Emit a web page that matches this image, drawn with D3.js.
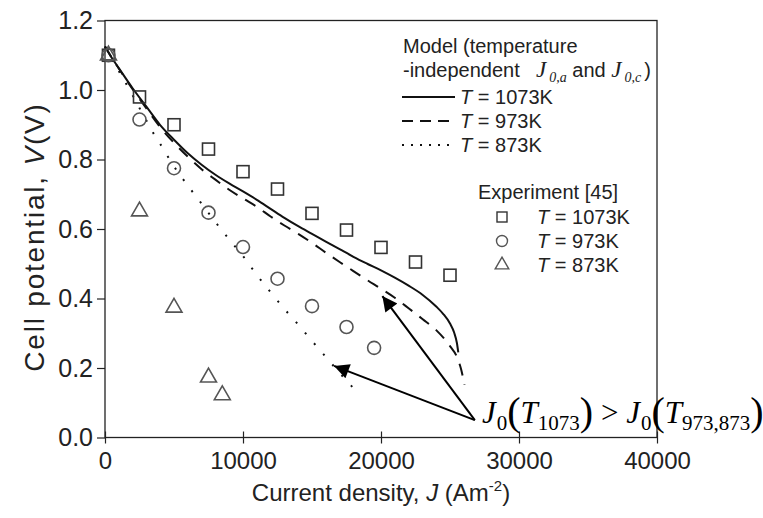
<!DOCTYPE html>
<html><head><meta charset="utf-8">
<script src="https://cdn.jsdelivr.net/npm/d3@7"></script>
<style>body{margin:0;background:#fff}</style></head>
<body>
<svg id="c" width="763" height="518"></svg>
<script>
// ---- data ----
const xTicks = [0, 10000, 20000, 30000, 40000];
const yTicks = [0, 0.2, 0.4, 0.6, 0.8, 1.0, 1.2];

const model1073J = [0,500,1000,2000,3000,4000,5000,6000,7000,8000,9000,10000,11000,12000,13000,14000,15000,16000,17000,18000,19000,20000,21000,22000,23000,24000,24500,25000,25300,25500,25600];
const model1073V = [1.125,1.092,1.063,1.005,0.952,0.899,0.857,0.818,0.785,0.756,0.731,0.708,0.684,0.658,0.632,0.608,0.586,0.564,0.542,0.520,0.500,0.481,0.460,0.437,0.411,0.377,0.356,0.328,0.302,0.272,0.245];

const model973J = [0,500,1000,2000,3000,4000,5000,6000,7000,8000,9000,10000,11000,12000,13000,14000,15000,16000,17000,18000,19000,20000,21000,22000,23000,24000,25000,25500,25800,26050];
const model973V = [1.125,1.092,1.062,1.002,0.947,0.893,0.848,0.808,0.772,0.742,0.713,0.688,0.664,0.636,0.610,0.586,0.560,0.532,0.505,0.479,0.453,0.428,0.402,0.372,0.341,0.309,0.263,0.232,0.197,0.152];

const model873J = [0,500,1000,1500,2000,2500,3000,3500,4000,5000,6000,7000,8000,9000,10000,11000,12000,13000,14000,15000,16000,17000,18000];
const model873V = [1.125,1.09,1.055,1.02,0.985,0.948,0.912,0.876,0.845,0.78,0.725,0.673,0.62,0.57,0.522,0.468,0.418,0.37,0.325,0.278,0.232,0.186,0.142];

const exp1073J = [250,2500,5000,7500,10000,12500,15000,17500,20000,22500,25000];
const exp1073V = [1.10,0.98,0.90,0.83,0.765,0.715,0.645,0.597,0.547,0.505,0.467];
const exp973J = [250,2500,5000,7500,10000,12500,15000,17500,19500];
const exp973V = [1.10,0.915,0.775,0.647,0.548,0.457,0.378,0.318,0.258];
const exp873J = [250,2500,5000,7500,8500];
const exp873V = [1.10,0.651,0.374,0.173,0.122];

const arrowFrom = [26800, 0.05];
const arrowTips = [[20100, 0.407], [16600, 0.206]];

// ---- drawing ----
const svg = d3.select("#c");
const L = 105, R = 657, T = 20.5, B = 437.5;
const x = d3.scaleLinear().domain([0, 40000]).range([L, R]);
const y = d3.scaleLinear().domain([0, 1.2]).range([B, T]);
const sans = "'Liberation Sans', Arial, Helvetica, sans-serif";
const serif = "'Liberation Serif', 'Times New Roman', serif";

// frame
svg.append("rect").attr("x", L).attr("y", T).attr("width", R - L).attr("height", B - T)
  .attr("fill", "none").attr("stroke", "#222").attr("stroke-width", 1.3);

// y axis
const yAx = svg.append("g").attr("transform", `translate(${L},0)`)
  .call(d3.axisLeft(y).tickValues(yTicks).tickFormat(d3.format(".1f")).tickSize(8).tickPadding(4));
yAx.select(".domain").remove();
yAx.selectAll("line").attr("stroke", "#222").attr("stroke-width", 1.2);
yAx.selectAll("text").attr("font-family", sans).attr("font-size", 25).attr("fill", "#222");

// x axis
const xAx = svg.append("g").attr("transform", `translate(0,${B})`)
  .call(d3.axisBottom(x).tickValues(xTicks).tickFormat(d3.format("d")).tickSize(6).tickPadding(8));
xAx.select(".domain").remove();
xAx.selectAll("line").attr("stroke", "#222").attr("stroke-width", 1.2).attr("y1", -6);
xAx.selectAll("text").attr("font-family", sans).attr("font-size", 24).attr("fill", "#222");

// axis titles
const xt = svg.append("text").attr("x", 381).attr("y", 501).attr("text-anchor", "middle")
  .attr("font-family", sans).attr("font-size", 24).attr("fill", "#222");
xt.append("tspan").text("Current density, ");
xt.append("tspan").attr("font-style", "italic").text("J");
xt.append("tspan").text(" (Am");
xt.append("tspan").attr("font-size", 15).attr("dy", -10).text("-2");
xt.append("tspan").attr("dy", 10).text(")");

const yt = svg.append("text").attr("transform", "translate(44,237) rotate(-90)").attr("text-anchor", "middle")
  .attr("font-family", sans).attr("font-size", 28).attr("letter-spacing", 1.8).attr("fill", "#222");
yt.append("tspan").text("Cell potential, ");
yt.append("tspan").attr("font-style", "italic").text("V");
yt.append("tspan").text("(V)");

// model lines
const line = d3.line().x(d => x(d[0])).y(d => y(d[1])).curve(d3.curveMonotoneX);
const models = [
  {J: model1073J, V: model1073V, dash: null},
  {J: model973J, V: model973V, dash: "12,9"},
  {J: model873J, V: model873V, dash: "2,12"}
];
models.forEach(m => {
  svg.append("path").datum(m.J.map((j, i) => [j, m.V[i]]))
    .attr("d", line).attr("fill", "none").attr("stroke", "#111")
    .attr("stroke-width", 2).attr("stroke-dasharray", m.dash);
});

// experimental markers
const sw = 1.6;
svg.append("g").selectAll("rect").data(exp1073J.map((j, i) => [j, exp1073V[i]])).join("rect")
  .attr("x", d => x(d[0]) - 6).attr("y", d => y(d[1]) - 6).attr("width", 12).attr("height", 12)
  .attr("fill", "none").attr("stroke", "#333").attr("stroke-width", sw);
svg.append("g").selectAll("circle").data(exp973J.map((j, i) => [j, exp973V[i]])).join("circle")
  .attr("cx", d => x(d[0])).attr("cy", d => y(d[1])).attr("r", 6.5)
  .attr("fill", "none").attr("stroke", "#555").attr("stroke-width", sw);
const tri = d3.symbol().type(d3.symbolTriangle).size(110);
svg.append("g").selectAll("path").data(exp873J.map((j, i) => [j, exp873V[i]])).join("path")
  .attr("transform", d => `translate(${x(d[0])},${y(d[1])})`).attr("d", tri)
  .attr("fill", "none").attr("stroke", "#555").attr("stroke-width", sw);

// legend
const lg = svg.append("g").attr("font-family", sans).attr("font-size", 20).attr("fill", "#222");
lg.append("text").attr("x", 403).attr("y", 53).text("Model (temperature");
const l2 = lg.append("text").attr("x", 403).attr("y", 77);
l2.append("tspan").text("-independent");
l2.append("tspan").attr("x", 536).attr("font-family", serif).attr("font-style", "italic").attr("font-size", 23).text("J");
l2.append("tspan").attr("font-family", serif).attr("font-style", "italic").attr("font-size", 14).attr("dy", 5).attr("dx", 3).text("0,a");
l2.append("tspan").attr("dy", -5).text(" and ");
l2.append("tspan").attr("font-family", serif).attr("font-style", "italic").attr("font-size", 23).text("J");
l2.append("tspan").attr("font-family", serif).attr("font-style", "italic").attr("font-size", 14).attr("dy", 5).attr("dx", 3).text("0,c");
l2.append("tspan").attr("dy", -5).attr("dx", 3).text(")");

const legLines = [
  {dash: null, label: "1073K", yy: 97},
  {dash: "11,7", label: "973K", yy: 121},
  {dash: "2,7", label: "873K", yy: 145}
];
legLines.forEach(d => {
  lg.append("line").attr("x1", 402).attr("x2", 455).attr("y1", d.yy).attr("y2", d.yy)
    .attr("stroke", "#111").attr("stroke-width", 2).attr("stroke-dasharray", d.dash);
  const t = lg.append("text").attr("x", 460).attr("y", d.yy + 7);
  t.append("tspan").attr("font-style", "italic").text("T");
  t.append("tspan").text(" = " + d.label);
});

lg.append("text").attr("x", 478).attr("y", 199).text("Experiment [45]");
const expLeg = [
  {type: "sq", label: "1073K", yy: 217},
  {type: "ci", label: "973K", yy: 241},
  {type: "tr", label: "873K", yy: 265}
];
expLeg.forEach(d => {
  if (d.type === "sq") lg.append("rect").attr("x", 497).attr("y", d.yy - 5).attr("width", 10).attr("height", 10)
    .attr("fill", "none").attr("stroke", "#333").attr("stroke-width", 1.4);
  if (d.type === "ci") lg.append("circle").attr("cx", 502).attr("cy", d.yy).attr("r", 5.5)
    .attr("fill", "none").attr("stroke", "#555").attr("stroke-width", 1.4);
  if (d.type === "tr") lg.append("path").attr("transform", `translate(502,${d.yy})`)
    .attr("d", d3.symbol().type(d3.symbolTriangle).size(80))
    .attr("fill", "none").attr("stroke", "#555").attr("stroke-width", 1.4);
  const t = lg.append("text").attr("x", 537).attr("y", d.yy + 7);
  t.append("tspan").attr("font-style", "italic").text("T");
  t.append("tspan").text(" = " + d.label);
});

// arrows
svg.append("defs").append("marker").attr("id", "ah").attr("viewBox", "0 0 10 10")
  .attr("refX", 10).attr("refY", 5).attr("markerWidth", 20).attr("markerHeight", 15)
  .attr("markerUnits", "userSpaceOnUse").attr("orient", "auto")
  .append("path").attr("d", "M0,0 L10,5 L0,10 z").attr("fill", "#000");
arrowTips.forEach(tp => {
  svg.append("line").attr("x1", x(arrowFrom[0])).attr("y1", y(arrowFrom[1]))
    .attr("x2", x(tp[0])).attr("y2", y(tp[1]))
    .attr("stroke", "#000").attr("stroke-width", 2).attr("marker-end", "url(#ah)");
});

// annotation
const an = svg.append("text").attr("x", 482).attr("y", 423).attr("font-family", serif)
  .attr("font-size", 31).attr("fill", "#000");
an.append("tspan").attr("font-style", "italic").text("J");
an.append("tspan").attr("font-size", 21).attr("dy", 7).attr("dx", 1).text("0");
an.append("tspan").attr("font-size", 40).attr("dy", -5).text("(");
an.append("tspan").attr("font-style", "italic").attr("dy", -2).text("T");
an.append("tspan").attr("font-size", 21).attr("dy", 7).text("1073");
an.append("tspan").attr("font-size", 40).attr("dy", -5).text(")");
an.append("tspan").attr("dy", -2).text(" > ");
an.append("tspan").attr("font-style", "italic").text("J");
an.append("tspan").attr("font-size", 21).attr("dy", 7).attr("dx", 1).text("0");
an.append("tspan").attr("font-size", 40).attr("dy", -5).text("(");
an.append("tspan").attr("font-style", "italic").attr("dy", -2).text("T");
an.append("tspan").attr("font-size", 21).attr("dy", 7).text("973,873");
an.append("tspan").attr("font-size", 40).attr("dy", -5).text(")");
</script>
</body></html>
